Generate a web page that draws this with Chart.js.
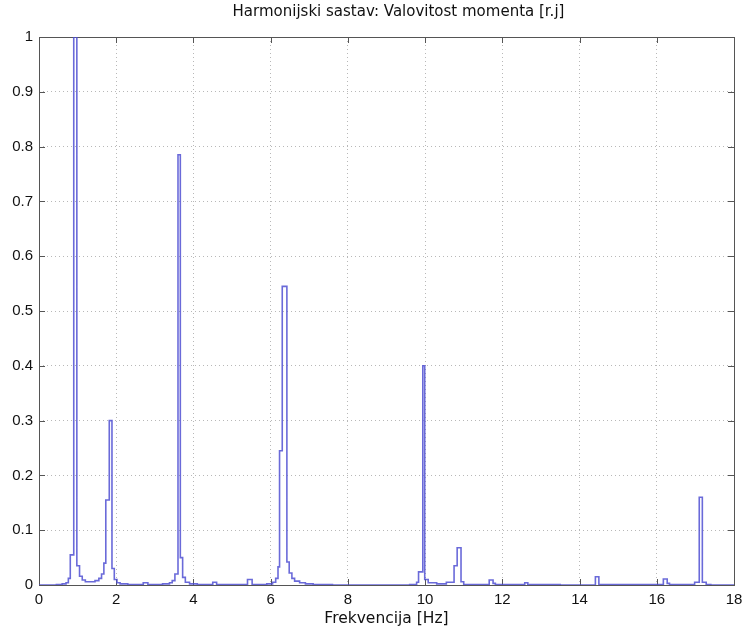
<!DOCTYPE html>
<html>
<head>
<meta charset="utf-8">
<script src="https://cdn.jsdelivr.net/npm/chart.js@4/dist/chart.umd.min.js"></script>
<style>
  html, body { margin: 0; padding: 0; background: #fff; }
  #wrap { width: 743px; height: 626px; }
</style>
</head>
<body>
<div id="wrap"><canvas id="spectrum"></canvas></div>
<script>
// harmonic spectrum (stair steps, left edge of each bin)
const freqHz = [
  0, 0.45, 0.6, 0.7, 0.76, 0.81, 0.9, 0.98, 1.05, 1.12, 1.2, 1.45, 1.55, 1.62, 1.68,
  1.73, 1.82, 1.89, 1.95, 2.02, 2.1, 2.3, 2.7, 2.82, 3.2, 3.38, 3.45, 3.52, 3.6, 3.66,
  3.72, 3.79, 3.9, 4.1, 4.5, 4.6, 5.4, 5.52, 5.9, 6.05, 6.13, 6.19, 6.23, 6.3, 6.42,
  6.48, 6.55, 6.62, 6.75, 6.9, 7.1, 7.6, 9.6, 9.78, 9.83, 9.94, 9.99, 10.08, 10.3,
  10.55, 10.75, 10.83, 10.93, 11.0, 11.66, 11.76, 11.82, 12.58, 12.66, 13.5, 14.41,
  14.5, 16.17, 16.27, 16.33, 16.98, 17.1, 17.18, 17.28, 17.4, 18
];
const amplitude = [
  0, 0.001, 0.002, 0.004, 0.012, 0.055, 1.0, 0.035, 0.016, 0.009, 0.006, 0.008, 0.012, 0.02, 0.04,
  0.155, 0.3, 0.03, 0.01, 0.004, 0.002, 0.001, 0.004, 0.001, 0.002, 0.004, 0.008, 0.02, 0.785, 0.05,
  0.014, 0.005, 0.002, 0.001, 0.005, 0.001, 0.01, 0.001, 0.002, 0.005, 0.012, 0.033, 0.245, 0.545, 0.042,
  0.022, 0.012, 0.007, 0.004, 0.002, 0.001, 0, 0.001, 0.005, 0.024, 0.4, 0.01, 0.004, 0.002,
  0.005, 0.035, 0.068, 0.006, 0.001, 0.009, 0.003, 0.001, 0.004, 0.001, 0, 0.015,
  0.001, 0.011, 0.003, 0.001, 0.005, 0.16, 0.005, 0.001, 0, 0
];
const xTicks = [0, 2, 4, 6, 8, 10, 12, 14, 16, 18];
const yTicks = [0, 0.1, 0.2, 0.3, 0.4, 0.5, 0.6, 0.7, 0.8, 0.9, 1];
const chartTitle = 'Harmonijski sastav: Valovitost momenta [r.j]';

const tickFont = { family: 'Liberation Sans, Arial, sans-serif', size: 15 };
const labelFont = { family: 'DejaVu Sans, sans-serif', size: 15.5 };

// matlab-like axes box with inward tick marks, plus the title line
const axesBox = {
  id: 'axesBox',
  beforeDatasetsDraw(chart) {
    const { ctx, chartArea: a, scales: { x, y } } = chart;
    ctx.save();
    ctx.strokeStyle = '#555';
    ctx.lineWidth = 1;
    ctx.strokeRect(a.left + 0.5, a.top + 0.5, a.right - a.left, a.bottom - a.top);
    ctx.beginPath();
    xTicks.forEach((v) => {
      const px = Math.round(x.getPixelForValue(v)) + 0.5;
      ctx.moveTo(px, a.bottom); ctx.lineTo(px, a.bottom - 6);
      ctx.moveTo(px, a.top); ctx.lineTo(px, a.top + 6);
    });
    yTicks.forEach((v) => {
      const py = Math.round(y.getPixelForValue(v)) + 0.5;
      ctx.moveTo(a.left, py); ctx.lineTo(a.left + 6, py);
      ctx.moveTo(a.right, py); ctx.lineTo(a.right - 6, py);
    });
    ctx.stroke();

    ctx.fillStyle = '#111';
    ctx.font = '15px "DejaVu Sans", sans-serif';
    ctx.textAlign = 'center';
    ctx.textBaseline = 'middle';
    ctx.fillText(chartTitle, (a.left + a.right) / 2 + 12, 12);
    ctx.restore();
  },
};

new Chart(document.getElementById('spectrum'), {
  type: 'line',
  data: {
    datasets: [{
      data: freqHz.map((f, i) => ({ x: f, y: amplitude[i] })),
      stepped: 'before',
      borderColor: 'rgba(80,80,210,0.85)',
      borderWidth: 1.6,
      pointRadius: 0,
      fill: false,
    }],
  },
  options: {
    responsive: true,
    maintainAspectRatio: false,
    animation: false,
    layout: { padding: { left: 0, right: 9, top: 37, bottom: 0 } },
    plugins: {
      legend: { display: false },
      tooltip: { enabled: false },
      title: { display: false },
    },
    scales: {
      x: {
        type: 'linear',
        min: 0,
        max: 18,
        afterFit: (s) => { s.height = 41; s.paddingLeft = 0; s.paddingRight = 0; },
        afterBuildTicks: (s) => { s.ticks = xTicks.map((v) => ({ value: v })); },
        ticks: { color: '#111', font: tickFont, padding: 6, maxRotation: 0, callback: (v) => String(v) },
        grid: { color: '#b8b8b8', drawTicks: false, lineWidth: 1 },
        border: { display: false, dash: [1, 3] },
        title: { display: true, text: 'Frekvencija [Hz]', color: '#111', font: labelFont, padding: { top: 0, bottom: -2 } },
      },
      y: {
        min: 0,
        max: 1,
        afterFit: (s) => { s.width = 39; s.paddingTop = 0; s.paddingBottom = 0; },
        afterBuildTicks: (s) => { s.ticks = yTicks.map((v) => ({ value: v })); },
        ticks: { color: '#111', font: tickFont, padding: 6, callback: (v) => String(v) },
        grid: { color: '#b8b8b8', drawTicks: false, lineWidth: 1 },
        border: { display: false, dash: [1, 3] },
      },
    },
  },
  plugins: [axesBox],
});
</script>
</body>
</html>
